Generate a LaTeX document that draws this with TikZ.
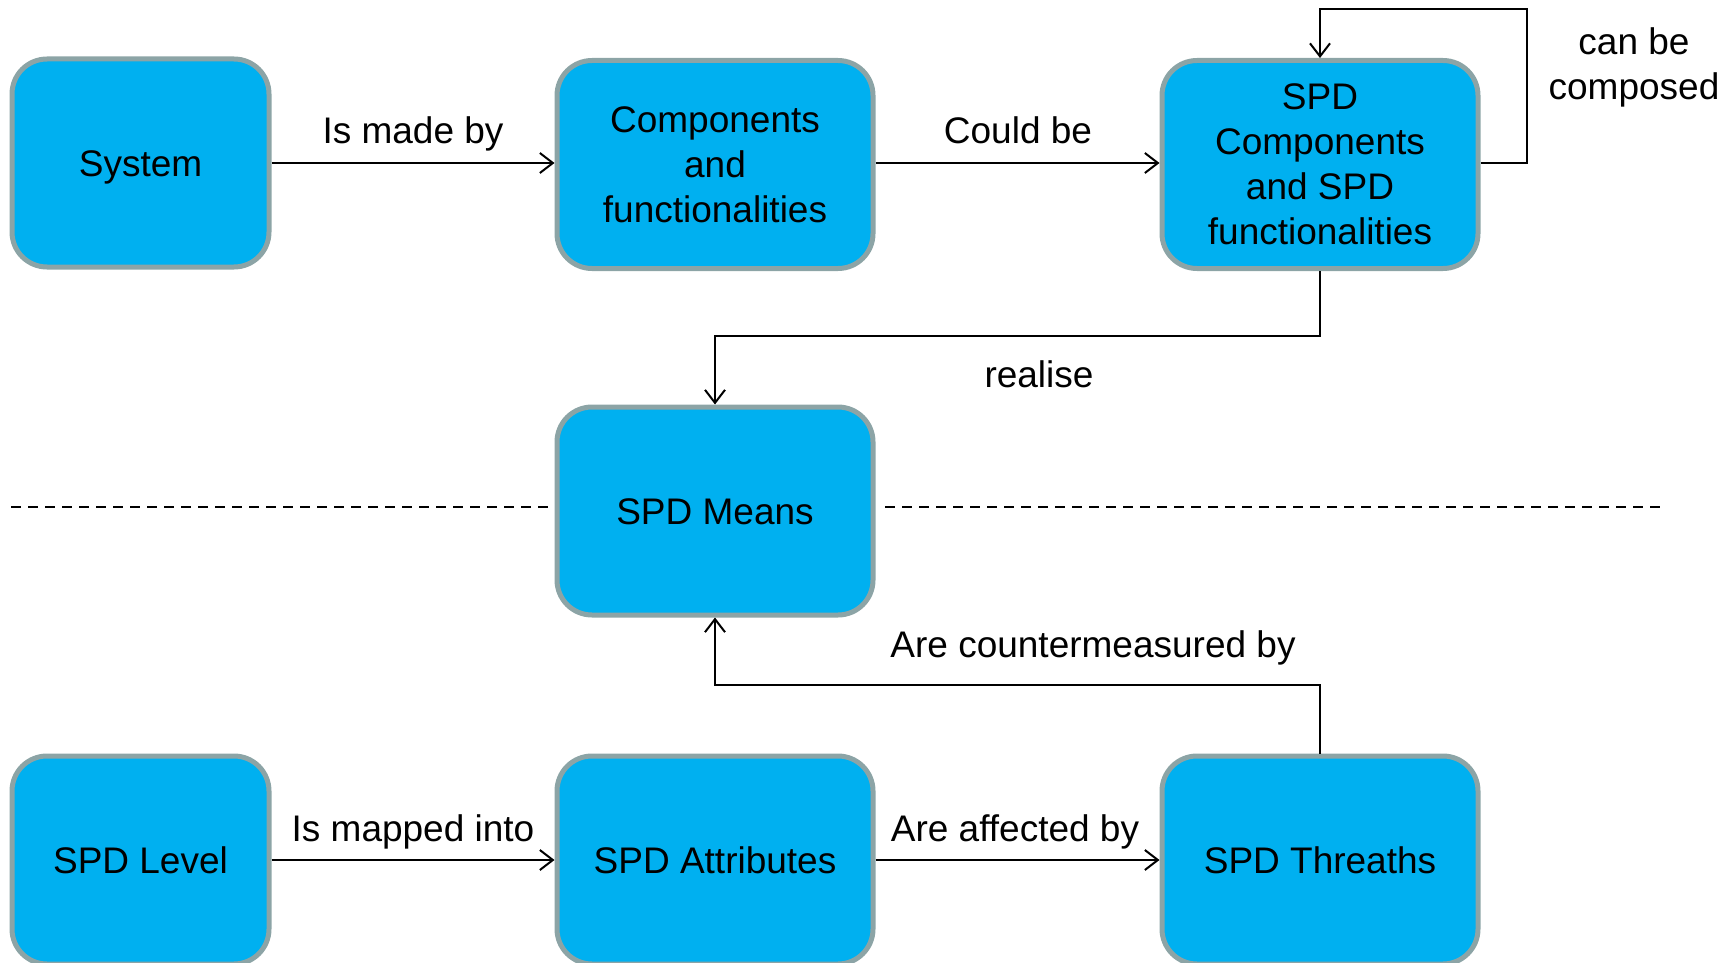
\documentclass[tikz,border=0pt]{standalone}
\usepackage{fontspec}
\setmainfont{Liberation Sans}
\usetikzlibrary{arrows.meta}
\definecolor{boxfill}{RGB}{0,176,240}
\definecolor{boxedge}{RGB}{140,164,166}
\begin{document}
\begin{tikzpicture}[x=1pt,y=-1pt,
  txt/.style={font=\fontsize{37}{45}\selectfont},
  blk/.style={txt, draw=boxedge, line width=5pt, fill=boxfill,
    rounded corners=35pt, minimum height=208pt, align=center, inner sep=0pt},
  narrow/.style={blk, minimum width=257pt},
  wide/.style={blk, minimum width=316pt},
  oneline/.style={text height=26.5pt, text depth=0pt},
  conn/.style={line width=2pt, -{Straight Barb[length=13pt,width=20pt]}},
  lbl/.style={txt, anchor=base, inner sep=0pt}]
\useasboundingbox (0,0) rectangle (1735,963);

% boxes
\node[narrow, oneline] (sys) at (140.5,163) {System};
\node[wide] (comp) at (715,164.5) {Components\\and\\functionalities};
\node[wide] (spdc) at (1320,164.5) {SPD\\Components\\and SPD\\functionalities};
\node[wide, oneline] (means) at (715,511) {SPD Means};
\node[narrow, oneline] (lev) at (140.5,860) {SPD Level};
\node[wide, oneline] (attr) at (715,860) {SPD Attributes};
\node[wide, oneline] (thr) at (1320,860) {SPD Threaths};

% separator between the two halves
\coordinate (sepL) at (11,507);
\coordinate (sepR1) at (885,507);
\coordinate (sepR2) at (1662,507);
\draw[line width=2pt, dash pattern=on 10pt off 7pt] (sepL) -- (sepL -| means.west);
\draw[line width=2pt, dash pattern=on 10pt off 7pt] (sepR1) -- (sepR2);

% bend points
\coordinate (loopTR) at (1527,9);
\coordinate (realBend) at (1320,336);
\coordinate (cmBend) at (1320,685);

% connectors
\draw[conn] (sys.east) -- (sys.east -| comp.west);
\draw[conn] (comp.east |- sys.east) -- (spdc.west |- sys.east);
\draw[conn] (spdc.east |- sys.east) -| (loopTR) -| (spdc.north);
\draw[conn] (spdc.south) -- (realBend) -| (means.north);
\draw[conn] (thr.north) -- (cmBend) -| (means.south);
\draw[conn] (lev.east) -- (lev.east -| attr.west);
\draw[conn] (attr.east) -- (attr.east -| thr.west);

% connector labels
\node[lbl] (l1) at (413,144) {Is made by};
\node[lbl] (l2) at (1018,144) {Could be};
\node[lbl] (l3a) at (1634,55) {can be};
\node[lbl] (l3b) at (1634,100) {composed};
\node[lbl] (l4) at (1039,387) {realise};
\node[lbl] (l5) at (1093,657) {Are countermeasured by};
\node[lbl] (l6) at (413,841) {Is mapped into};
\node[lbl] (l7) at (1015,841) {Are affected by};
\end{tikzpicture}
\end{document}
